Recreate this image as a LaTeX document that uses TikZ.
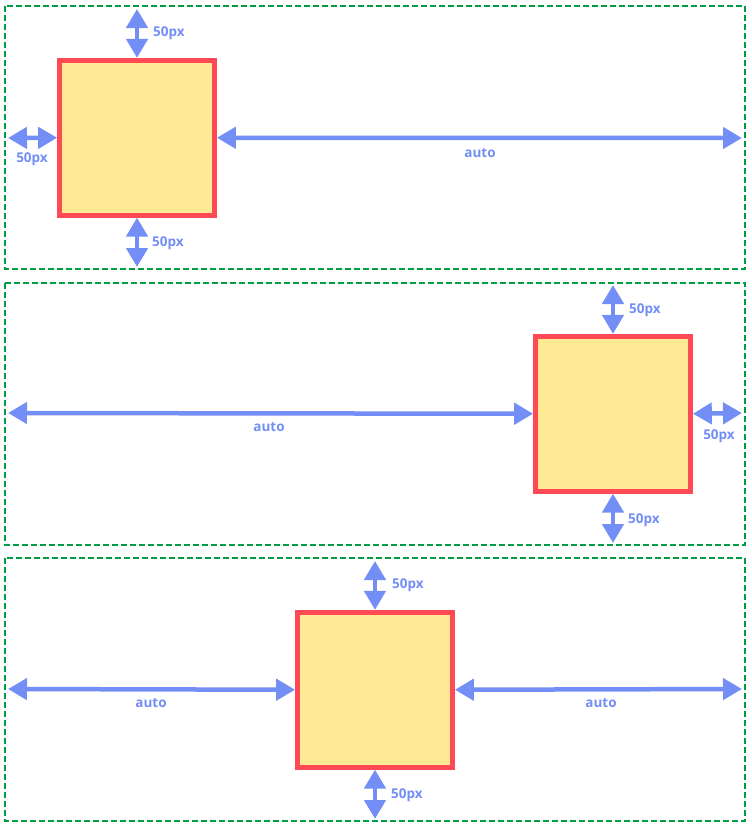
\documentclass[tikz,border=0pt]{standalone}
\usepackage{fontspec}
\setmainfont{Open Sans}
\usetikzlibrary{arrows.meta}
\definecolor{bluea}{RGB}{115,143,245}
\definecolor{greenb}{RGB}{0,158,68}
\definecolor{redb}{RGB}{255,74,85}
\definecolor{yellowb}{RGB}{254,233,148}
\tikzset{
  panel/.style={draw=greenb, line width=2.8pt, dash pattern=on 6pt off 3pt},
  sq/.style={draw=redb, fill=yellowb, line width=4.7pt, minimum width=155pt, minimum height=155pt, inner sep=0pt},
  dim/.style={draw=bluea, line width=4.5pt, {Triangle[width=21pt,length=19pt]}-{Triangle[width=21pt,length=19pt]}},
  lbl/.style={text=bluea, font=\fontsize{13.5}{15}\selectfont\bfseries, inner sep=0pt}
}
\begin{document}
\begin{tikzpicture}[x=1pt,y=-1pt]
\useasboundingbox (0,0) rectangle (752,827);
% panels
\draw[panel] (5,6) rectangle (745,269);
\draw[panel] (5,283) rectangle (745,545);
\draw[panel] (5,558) rectangle (745,821);
% squares
\node[sq] (s1) at (137,137.75) {};
\node[sq] (s2) at (613,413.75) {};
\node[sq] (s3) at (375,689.75) {};
% panel 1
\coordinate (a1t) at (137,9);
\coordinate (a1b) at (137,267);
\coordinate (a1l) at (8,138);
\coordinate (a1r) at (742,138);
\draw[dim] (a1t) -- (s1.north);
\draw[dim] (s1.south) -- (a1b);
\draw[dim] (a1l) -- (s1.west);
\draw[dim] (s1.east) -- (a1r);
\node[lbl, anchor=west] (l1t) at (153,33) {50px};
\node[lbl, anchor=west] (l1b) at (152,243) {50px};
\node[lbl] (l1l) at (32,159) {50px};
\node[lbl] (l1r) at (480,153) {auto};
% panel 2
\coordinate (a2t) at (613,285);
\coordinate (a2b) at (613,543);
\coordinate (a2l) at (8,413);
\coordinate (a2r) at (742,413);
\draw[dim] (a2t) -- (s2.north);
\draw[dim] (s2.south) -- (a2b);
\draw[dim] (a2l) -- (s2.west);
\draw[dim] (s2.east) -- (a2r);
\node[lbl, anchor=west] (l2t) at (629,310) {50px};
\node[lbl, anchor=west] (l2b) at (628,520) {50px};
\node[lbl] (l2r) at (719,436) {50px};
\node[lbl] (l2l) at (269,427) {auto};
% panel 3
\coordinate (a3t) at (375,561);
\coordinate (a3b) at (375,819);
\coordinate (a3l) at (8,689);
\coordinate (a3r) at (742,689);
\draw[dim] (a3t) -- (s3.north);
\draw[dim] (s3.south) -- (a3b);
\draw[dim] (a3l) -- (s3.west);
\draw[dim] (s3.east) -- (a3r);
\node[lbl, anchor=west] (l3t) at (392,585) {50px};
\node[lbl, anchor=west] (l3b) at (391,795) {50px};
\node[lbl] (l3l) at (151,703) {auto};
\node[lbl] (l3r) at (601,703) {auto};
\end{tikzpicture}
\end{document}
